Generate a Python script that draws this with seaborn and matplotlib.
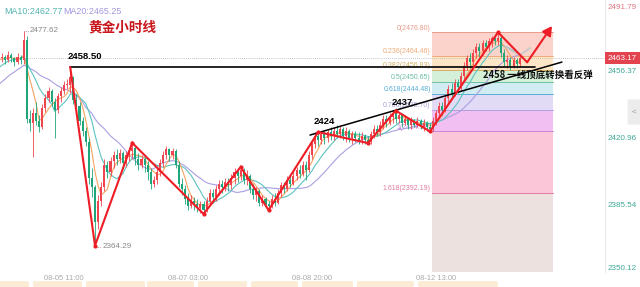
import numpy as np
import pandas as pd
import matplotlib
matplotlib.use("Agg")
import matplotlib.pyplot as plt
import seaborn as sns
from matplotlib.patches import FancyBboxPatch
import matplotlib.transforms as mtransforms

# ---------------- data ----------------
# hidden bars before the visible window (only used to seed the moving averages)
warm_close = [2432, 2436, 2434, 2439, 2441, 2438, 2443, 2446, 2444, 2449,
              2452, 2450, 2455, 2458, 2457, 2460, 2462, 2461, 2464, 2463]

close = [2464, 2462, 2465, 2463, 2461, 2464, 2462, 2473, 2431, 2429,
         2434, 2430, 2427, 2437, 2442, 2446, 2440, 2436, 2443, 2446,
         2449, 2449, 2453, 2441, 2438, 2430, 2425, 2419, 2400, 2395,
         2377, 2388, 2395, 2407, 2403, 2409, 2412, 2410, 2413, 2408,
         2412, 2414, 2416, 2410, 2407, 2410, 2407, 2403, 2397, 2399,
         2403, 2408, 2412, 2415, 2412, 2414, 2407, 2397, 2394, 2389,
         2385, 2388, 2386, 2384, 2386, 2383, 2388, 2392, 2390, 2394,
         2397, 2395, 2398, 2396, 2400, 2403, 2401, 2404, 2399, 2401,
         2394, 2391, 2393, 2387, 2389, 2386, 2385, 2389, 2387, 2392,
         2396, 2394, 2399, 2397, 2401, 2404, 2402, 2407, 2404, 2412,
         2418, 2422, 2420, 2423, 2421, 2424, 2422, 2425, 2423, 2426,
         2422, 2425, 2421, 2423, 2421, 2420, 2422, 2420, 2419, 2423,
         2426, 2424, 2428, 2431, 2429, 2432, 2434, 2431, 2433, 2429,
         2431, 2428, 2430, 2428, 2430, 2427, 2429, 2427, 2426, 2430,
         2434, 2438, 2436, 2442, 2447, 2445, 2450, 2448, 2454, 2459,
         2463, 2461, 2466, 2469, 2467, 2471, 2469, 2472, 2474, 2472,
         2474, 2466, 2461, 2462, 2459, 2462, 2460, 2463.17]

high = [2466, 2465, 2467, 2466, 2464, 2466, 2465, 2477.62, 2475, 2436,
        2437, 2440, 2433, 2439, 2444, 2448, 2447, 2442, 2445, 2448,
        2451, 2452, 2458.5, 2454, 2444, 2440, 2432, 2427, 2421, 2405,
        2396, 2391, 2398, 2410, 2409, 2411, 2414, 2415, 2415, 2414,
        2414, 2416, 2418.5, 2417, 2413, 2412, 2411, 2409, 2405, 2401,
        2405, 2410, 2414, 2417, 2416, 2416, 2415, 2409, 2400, 2396,
        2392, 2391, 2390, 2389, 2388, 2388, 2390, 2394, 2394, 2396,
        2399, 2399, 2400, 2400, 2402, 2405, 2405, 2405.8, 2405, 2404,
        2402, 2397, 2395, 2394, 2391, 2390, 2388, 2391, 2392, 2394,
        2398, 2398, 2401, 2401, 2403, 2406, 2407, 2409, 2409, 2414,
        2420, 2424, 2424.2, 2425, 2425, 2426, 2427, 2427, 2428, 2428,
        2427, 2427, 2426, 2425, 2425, 2424, 2424, 2423, 2422, 2425,
        2428, 2428, 2430, 2433, 2433, 2434, 2436, 2437, 2435, 2434,
        2433, 2432, 2432, 2431, 2432, 2431, 2431, 2430, 2429, 2432,
        2436, 2440, 2440, 2444, 2449, 2450, 2452, 2452, 2456, 2461,
        2465, 2466, 2468, 2471, 2471, 2473, 2473, 2474, 2475, 2476,
        2476.8, 2475, 2468, 2465, 2464, 2464, 2463, 2465]

low = [2461, 2460, 2461, 2461, 2459, 2460, 2460, 2460, 2429, 2425,
       2411, 2428, 2424, 2426, 2435, 2440, 2438, 2421, 2434, 2440,
       2444, 2447, 2445, 2439, 2433, 2428, 2422, 2417, 2397, 2390,
       2364.29, 2373, 2385, 2393, 2400, 2401, 2405, 2407, 2408, 2405,
       2406, 2409, 2410, 2407, 2404, 2405, 2403, 2399, 2394, 2395,
       2397, 2401, 2406, 2410, 2409, 2410, 2405, 2395, 2391, 2386,
       2383, 2384, 2383, 2382, 2381.5, 2381, 2382, 2386, 2387, 2388,
       2391, 2392, 2393, 2393, 2394, 2397, 2398, 2399, 2397, 2396,
       2392, 2389, 2388, 2385, 2385, 2384, 2383, 2384, 2385, 2386,
       2390, 2392, 2393, 2395, 2396, 2399, 2400, 2401, 2399, 2403,
       2410, 2416, 2417, 2418, 2418, 2419, 2420, 2420, 2421, 2421,
       2420, 2419, 2419, 2418, 2419, 2418, 2418, 2418, 2418.4, 2418,
       2421, 2422, 2422, 2426, 2427, 2428, 2429, 2429, 2429, 2427,
       2428, 2426, 2426, 2427, 2427, 2426, 2425, 2425, 2424.5, 2425,
       2428, 2432, 2433, 2435, 2440, 2442, 2443, 2445, 2446, 2452,
       2457, 2458, 2459, 2463, 2464, 2465, 2467, 2467, 2469, 2470,
       2470, 2464, 2459, 2458, 2457, 2458, 2458, 2459]

# zig-zag drawn in red
zz_idx = [22, 30, 42, 65, 77, 86, 102, 118, 127, 138, 160, 169.4]
zz_val = [2458.5, 2364.29, 2418.5, 2381.0, 2405.8, 2383.0, 2424.2, 2418.4,
          2435.5, 2424.5, 2476.8, 2461.0]
arrow_end = (177.4, 2480.1)

# black lines
neck_idx = [21.9, 171.9]
neck_val = [2458.5, 2458.5]
trend_idx = [99.35, 180.6]
trend_val = [2422.6, 2461.1]

# Fibonacci retracement
fib_ratio = ["0", "0.236", "0.382", "0.5", "0.618", "0.786", "1", "1.618"]
fib_price = [2476.80, 2464.46, 2456.83, 2450.65, 2444.48, 2435.70, 2424.51, 2392.19]
fib_x = [138.7, 177.7]
fib_fill = ["#fbd3ca", "#fde5c6", "#d5f0d8", "#d2ecf3", "#e2dbf6", "#f1bff2", "#fac6d8", "#ece1df"]
fib_line = ["#ec9a8c", "#eeaa78", "#d8b060", "#6cc0a0", "#5aaed8", "#b0a0de", "#c884d4", "#e27aa2"]

yticks = [2491.79, 2456.37, 2420.96, 2385.54, 2350.12]
xtick_pos = [20, 60, 100, 140]
xtick_lab = ["08-05 11:00", "08-07 03:00", "08-08 20:00", "08-12 13:00"]
last_price = 2463.17
ma_texts = ["MA10:2462.77", "MA20:2465.25"]

# ---------------- styling ----------------
sns.set_theme(style="white")
plt.rcParams["font.family"] = ["Liberation Sans", "Noto Sans CJK SC", "DejaVu Sans"]

UP = "#f0444f"
DN = "#1ea67a"
MA5C, MA10C, MA20C = "#f5a462", "#5cc3c0", "#aa9fe2"

fig = plt.figure(figsize=(6.4, 2.87), dpi=100)
ax = fig.add_axes([0, 15 / 287, 605 / 640, 272 / 287])
ax.set_xlim(-0.645, 194.5)
ax.set_ylim(2350.37, 2493.84)
for s in ["top", "left", "bottom"]:
    ax.spines[s].set_visible(False)
ax.spines["right"].set_color("#ececec")
ax.spines["right"].set_linewidth(0.8)

# fib zones
x0, x1 = fib_x
bounds = fib_price + [2350.37]
for k in range(len(fib_price)):
    ax.fill_between([x0, x1], bounds[k + 1], bounds[k], color=fib_fill[k], lw=0, zorder=0)
for k, p in enumerate(fib_price):
    ax.plot([x0, x1], [p, p], color=fib_line[k], lw=0.7, zorder=1)
    ax.text(x0 - 0.4, p + 0.4, f"{fib_ratio[k]}({p:.2f})", ha="right", va="bottom",
            fontsize=5.0, color=fib_line[k], zorder=2)

# data frame
n_w = len(warm_close)
all_close = warm_close + close
df = pd.DataFrame({"i": np.arange(-n_w, len(close)), "close": all_close})
df["MA5"] = df["close"].rolling(5).mean()
df["MA10"] = df["close"].rolling(10).mean()
df["MA20"] = df["close"].rolling(20).mean()
vis = df[df["i"] >= -1]

# last price dotted line
ax.axhline(last_price, color="#b0b0b0", lw=0.6, ls=(0, (1, 1.5)), zorder=1)

# MA lines
for col, c in [("MA20", MA20C), ("MA10", MA10C), ("MA5", MA5C)]:
    sns.lineplot(data=vis, x="i", y=col, color=c, lw=0.8, ax=ax, zorder=3)

# candles
opens = [warm_close[-1]] + close[:-1]
idx = np.arange(len(close))
cols = [UP if c >= o else DN for o, c in zip(opens, close)]
ax.vlines(idx, low, high, colors=cols, lw=0.6, zorder=4)
bot = [min(o, c) for o, c in zip(opens, close)]
hgt = [max(abs(c - o), 0.35) for o, c in zip(opens, close)]
ax.bar(idx, hgt, bottom=bot, width=0.66, color=cols, lw=0, zorder=5)

# faint grey projection near the end
ax.plot([162.3, 167.1, 170.3], [2469.1, 2464.8, 2468.5], color="#c8c8c8", lw=1.6, alpha=0.8, zorder=5)

# black lines
sns.lineplot(x=neck_idx, y=neck_val, color="black", lw=1.2, ax=ax, zorder=6)
sns.lineplot(x=trend_idx, y=trend_val, color="black", lw=1.1, ax=ax, zorder=6)

# red zigzag
ax.plot(zz_idx, zz_val, color="#ee1c25", lw=1.5, zorder=7, solid_joinstyle="miter")
ax.plot(zz_idx[1:-1], zz_val[1:-1], "o", color="#ee1c25", ms=2, zorder=7)
ax.annotate("", xy=arrow_end, xytext=(zz_idx[-1], zz_val[-1]),
            arrowprops=dict(arrowstyle="-|>,head_length=0.45,head_width=0.25",
                            color="#ee1c25", lw=1.5, shrinkA=0, shrinkB=0), zorder=7)

# annotations
ax.plot([7.2, 8.6], [2477.62, 2477.62], color="#999999", lw=0.6, ls=(0, (1, 1)))
ax.text(8.8, 2477.62, "2477.62", ha="left", va="center", fontsize=5.8, color="#888888")
ax.plot([30.4, 32.0], [2363.8, 2363.8], color="#999999", lw=0.6, ls=(0, (1, 1)))
ax.text(32.3, 2363.8, "2364.29", ha="left", va="center", fontsize=5.8, color="#888888")

ax.text(21.3, 2463.8, "2458.50", ha="left", va="center", fontsize=6.8, fontweight="bold", color="black", zorder=8)
ax.text(103.9, 2429.5, "2424", ha="center", va="center", fontsize=6.8, fontweight="bold", color="black", zorder=8)
ax.text(129.0, 2439.9, "2437", ha="center", va="center", fontsize=6.8, fontweight="bold", color="black", zorder=8)
ax.text(155.2, 2454.3, "2458 一线顶底转换看反弹", ha="left", va="center", fontsize=6.8,
        fontweight="bold", color="#111111", zorder=8,
        family=["Noto Sans CJK SC", "DejaVu Sans"])
ax.text(38.7, 2479.3, "黄金小时线", ha="center", va="center", fontsize=9.8, fontweight="bold",
        color="#c8161d", family=["Noto Sans CJK SC", "DejaVu Sans"], zorder=8)

# x tick labels
ax.set_xticks(xtick_pos)
ax.set_xticklabels(xtick_lab, fontsize=5.4, color="#aaaaaa")
ax.tick_params(axis="x", length=0, pad=1.8)
ax.set_yticks([])
ax.set_xlabel("")
ax.set_ylabel("")

# right price labels
trans = mtransforms.blended_transform_factory(ax.transAxes, ax.transData)
for k, v in enumerate(yticks):
    if k == 0:
        yy, va, c = min(v, 2493.84), "top", "#e27582"
    elif k == len(yticks) - 1:
        yy, va, c = max(v, 2350.37), "bottom", "#3ea897"
    else:
        yy, va, c = v, "center", "#3ea897"
    ax.text(1.005, yy, f"{v:.2f}", transform=trans, ha="left", va=va, fontsize=5.8, color=c, clip_on=False)
ax.text(1.005, last_price, f"{last_price:.2f}", transform=trans, ha="left", va="center",
        fontsize=5.8, color="white", clip_on=False,
        bbox=dict(boxstyle="square,pad=0.35", fc="#e2434f", ec="none"))

# MA legend text
fig.text(4 / 640, 1 - 12 / 287, ma_texts[0], fontsize=6.4, color="#52b5b0", va="center", ha="left")
fig.text(63 / 640, 1 - 12 / 287, ma_texts[1], fontsize=6.4, color="#a394dc", va="center", ha="left")

# UI bits: side button and bottom tabs
fig.patches.append(FancyBboxPatch((629 / 640, 1 - 124 / 287), 14 / 640, 24 / 287,
                                  boxstyle="round,pad=0.002", fc="#ececec", ec="none",
                                  transform=fig.transFigure, figure=fig))
fig.text(634 / 640, 1 - 112 / 287, "<", fontsize=6, color="#999999", ha="center", va="center")
tabs = [(0, 27), (35, 80), (88, 143), (149, 192), (200, 245), (253, 296), (304, 351), (359, 412), (420, 496)]
for a, b in tabs:
    fig.patches.append(FancyBboxPatch((a / 640, 0), (b - a) / 640, 5 / 287,
                                      boxstyle="round,pad=0.003", fc="#fdecd5", ec="none",
                                      transform=fig.transFigure, figure=fig))

fig.savefig("out.png", dpi=100)
